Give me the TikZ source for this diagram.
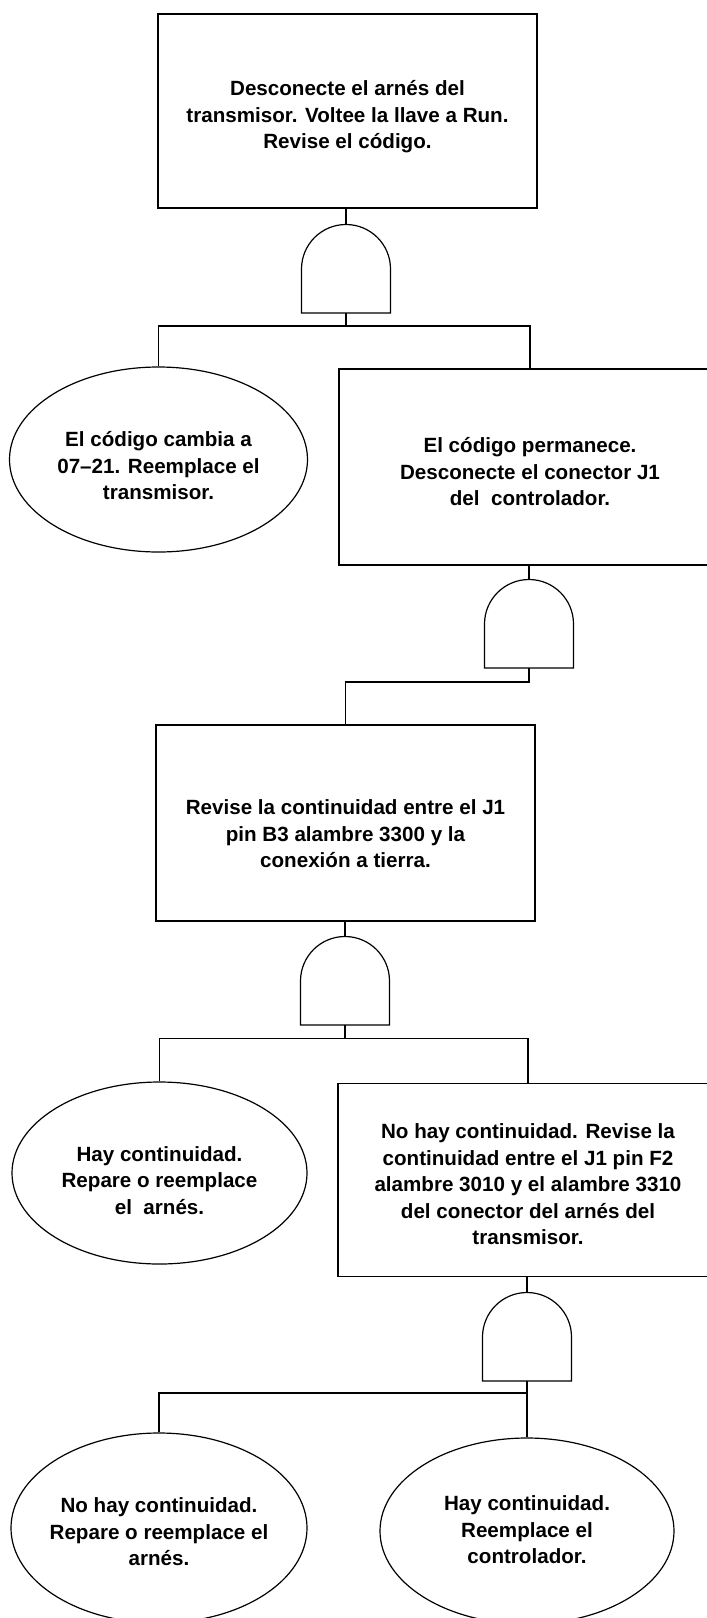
\documentclass[tikz,border=0pt]{standalone}
\usepackage{fontspec}
\setmainfont{Liberation Sans}
\usetikzlibrary{shapes.geometric}
\newcommand{\msgfont}{\fontsize{10.3}{13.25}\selectfont\bfseries}
\newcommand{\andgate}[1]{%
  \draw (#1.south west) -- (#1.west)
    arc[start angle=180, end angle=0, radius=22.25pt] -- (#1.south east) -- cycle;}
\tikzset{
  stepbox/.style={
    shape = rectangle,
    draw,
    inner sep = 0pt
  },
  outcome/.style={
    shape = ellipse,
    draw,
    inner sep = 0pt
  },
  msg/.style={
    align = center,
    inner sep = 0pt,
    font = \msgfont
  },
  gatebox/.style={
    shape = rectangle,
    inner sep = 0pt,
    outer sep = 0pt,
    minimum width = 44.5pt,
    minimum height = 44pt
  },
  every picture/.style = {
    x = 0.5pt,
    y = -0.5pt,
    line width = 0.6pt
  }
}
\begin{document}
\begin{tikzpicture}
  \useasboundingbox (0,0) rectangle (707,1618);
  \clip (0,0) rectangle (707,1618);
  % first test
  \node[stepbox, minimum width=189.5pt, minimum height=97pt,
    label={[msg, yshift=-3pt]center:{Desconecte el arnés del\\ transmisor. Voltee la llave a Run.\\ Revise el código.}}]
    (box1) at (347.5,111) {};
  \node[gatebox] (g1) at (346,269) {};
  \andgate{g1}
  \coordinate (j1) at (346,326);
  \node[outcome, minimum width=149pt, minimum height=92.5pt,
    label={[msg, yshift=-3.25pt]center:{El código cambia a\\ 07–21. Reemplace el\\ transmisor.}}]
    (el1) at (158.5,459.5) {};
  \node[stepbox, minimum width=191pt, minimum height=98pt,
    label={[msg, yshift=-2.5pt]center:{El código permanece.\\ Desconecte el conector J1\\ del\ \ controlador.}}]
    (box2) at (530,467) {};
  \draw (g1.north) -- (g1.north |- box1.south);
  \draw (g1.south) -- (j1);
  \draw (el1.north) |- (j1) -| (box2.north);
  % second test
  \node[gatebox] (g2) at (529,624) {};
  \andgate{g2}
  \draw (g2.north) -- (g2.north |- box2.south);
  \coordinate (j2) at (529,682);
  \node[stepbox, minimum width=189.5pt, minimum height=98pt,
    label={[msg, yshift=-5.5pt]center:{Revise la continuidad entre el J1\\ pin B3 alambre 3300 y la\\ conexión a tierra.}}]
    (box3) at (345.5,823) {};
  \draw (g2.south) -- (j2) -| (box3.north);
  \node[gatebox] (g3) at (345,981) {};
  \andgate{g3}
  \draw (g3.north) -- (g3.north |- box3.south);
  \coordinate (j3) at (345,1038.5);
  \node[outcome, minimum width=147.5pt, minimum height=91pt,
    label={[msg, yshift=-3.75pt]center:{Hay continuidad.\\ Repare o reemplace\\ el\ \ arnés.}}]
    (el2) at (159.5,1173) {};
  \node[stepbox, minimum width=190pt, minimum height=96.75pt,
    label={[msg, yshift=-2.25pt]center:{No hay continuidad. Revise la\\ continuidad entre el J1 pin F2\\ alambre 3010 y el alambre 3310\\ del conector del arnés del\\ transmisor.}}]
    (box4) at (528,1180) {};
  \draw (g3.south) -- (j3);
  \draw (el2.north) |- (j3) -| (box4.north);
  % third test
  \node[gatebox] (g4) at (527,1337) {};
  \andgate{g4}
  \draw (g4.north) -- (g4.north |- box4.south);
  \coordinate (j4) at (527,1393);
  \node[outcome, minimum width=148pt, minimum height=95pt,
    label={[msg, yshift=-2pt]center:{No hay continuidad.\\ Repare o reemplace el\\ arnés.}}]
    (el3) at (159,1528) {};
  \node[outcome, minimum width=147pt, minimum height=93pt,
    label={[msg, yshift=0.5pt]center:{Hay continuidad.\\ Reemplace el\\ controlador.}}]
    (el4) at (527,1531) {};
  \draw (g4.south) -- (j4) -- (el4.north);
  \draw (el3.north) |- (j4);
\end{tikzpicture}
\end{document}
